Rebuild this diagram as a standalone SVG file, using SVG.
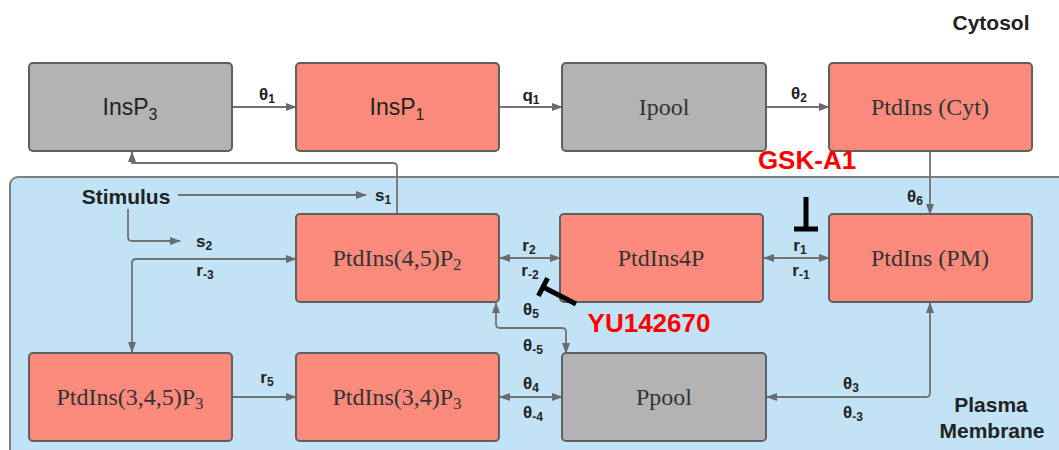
<svg xmlns="http://www.w3.org/2000/svg" width="1059" height="450" viewBox="0 0 1059 450">
<defs>
<marker id="ah" markerUnits="userSpaceOnUse" markerWidth="11" markerHeight="8" refX="10" refY="4" orient="auto-start-reverse">
<path d="M0,0 L11,4 L0,8 z" fill="#6b6b6b"/>
</marker>
<style>
.box{stroke:#5f5f5f;stroke-width:2}
.red{fill:#fa8b7c}
.gray{fill:#b3b3b3}
.serif{font-family:"Liberation Serif","DejaVu Serif",serif;font-size:24px;fill:#333;text-anchor:middle}
.sans{font-family:"Liberation Sans",Arial,sans-serif;font-size:23px;fill:#222;text-anchor:middle}
.lbl{font-family:"Liberation Sans",Arial,sans-serif;font-size:17px;font-weight:bold;fill:#222;text-anchor:middle}
.big{font-family:"Liberation Sans",Arial,sans-serif;font-size:21px;font-weight:bold;fill:#222;text-anchor:middle}
.inh{font-family:"Liberation Sans",Arial,sans-serif;font-size:26px;font-weight:bold;fill:#f00;text-anchor:middle}
.sub{font-size:12px}
.c{fill:none;stroke:#727272;stroke-width:1.8}
.t{stroke:#000;stroke-width:5;fill:none}
</style>
</defs>
<rect width="1059" height="450" fill="#fff"/>
<g id="membrane">
<rect x="10" y="177" width="1062" height="290" rx="8" fill="#c2e3f5" stroke="#7f7f7f" stroke-width="2"/>
<text class="big" x="991" y="412">Plasma</text>
<text class="big" x="992" y="438">Membrane</text>
</g>
<text id="cytosol" class="big" x="991" y="30">Cytosol</text>

<g id="connectors">
<path class="c" d="M232,107 H296" marker-end="url(#ah)"/>
<path class="c" d="M499,107 H562" marker-end="url(#ah)"/>
<path class="c" d="M766,107 H829" marker-end="url(#ah)"/>
<path class="c" d="M930,151 V214" marker-end="url(#ah)"/>
<path class="c" d="M397,214 V167 Q397,163 393,163 H132 V152" marker-end="url(#ah)"/>
<path class="c" d="M178,195 H366" marker-end="url(#ah)"/>
<path class="c" d="M128,209 V237 Q128,241 132,241 H180" marker-end="url(#ah)"/>
<path class="c" d="M132,352 V263 Q132,259 136,259 H296" marker-start="url(#ah)" marker-end="url(#ah)"/>
<path class="c" d="M500,258 H560" marker-start="url(#ah)" marker-end="url(#ah)"/>
<path class="c" d="M764,258 H829" marker-start="url(#ah)" marker-end="url(#ah)"/>
<path class="c" d="M496,303 V324 Q496,328 500,328 H562 Q566,328 566,332 V353" marker-start="url(#ah)" marker-end="url(#ah)"/>
<path class="c" d="M232,397 H296" marker-end="url(#ah)"/>
<path class="c" d="M500,397 H562" marker-start="url(#ah)" marker-end="url(#ah)"/>
<path class="c" d="M767,397 H926 Q930,397 930,393 V303" marker-start="url(#ah)" marker-end="url(#ah)"/>
</g>

<g id="labels">
<text class="lbl" x="267" y="100">θ<tspan class="sub" dy="3">1</tspan></text>
<text class="lbl" x="531" y="101">q<tspan class="sub" dy="3">1</tspan></text>
<text class="lbl" x="799" y="99">θ<tspan class="sub" dy="3">2</tspan></text>
<text class="lbl" x="915" y="202">θ<tspan class="sub" dy="3">6</tspan></text>
<text class="lbl" x="383" y="201">s<tspan class="sub" dy="3">1</tspan></text>
<text class="lbl" x="204" y="247">s<tspan class="sub" dy="3">2</tspan></text>
<text class="lbl" x="205" y="276">r<tspan class="sub" dy="3">-3</tspan></text>
<text class="lbl" x="529" y="251">r<tspan class="sub" dy="3">2</tspan></text>
<text class="lbl" x="530" y="276">r<tspan class="sub" dy="3">-2</tspan></text>
<text class="lbl" x="800" y="251">r<tspan class="sub" dy="3">1</tspan></text>
<text class="lbl" x="801" y="276">r<tspan class="sub" dy="3">-1</tspan></text>
<text class="lbl" x="531" y="315">θ<tspan class="sub" dy="3">5</tspan></text>
<text class="lbl" x="533" y="351">θ<tspan class="sub" dy="3">-5</tspan></text>
<text class="lbl" x="531" y="389">θ<tspan class="sub" dy="3">4</tspan></text>
<text class="lbl" x="533" y="418">θ<tspan class="sub" dy="3">-4</tspan></text>
<text class="lbl" x="267" y="383">r<tspan class="sub" dy="3">5</tspan></text>
<text class="lbl" x="851" y="389">θ<tspan class="sub" dy="3">3</tspan></text>
<text class="lbl" x="853" y="418">θ<tspan class="sub" dy="3">-3</tspan></text>
<text class="big" x="126" y="204">Stimulus</text>
</g>

<g id="InsP3"><rect class="box gray" x="29" y="63" width="203" height="88" rx="4"/><text class="sans" x="130" y="115">InsP<tspan style="font-size:16px" dy="5">3</tspan></text></g>
<g id="InsP1"><rect class="box red" x="296" y="63" width="203" height="88" rx="4"/><text class="sans" x="397" y="115">InsP<tspan style="font-size:16px" dy="5">1</tspan></text></g>
<g id="Ipool"><rect class="box gray" x="562" y="63" width="204" height="88" rx="4"/><text class="serif" x="664" y="115">Ipool</text></g>
<g id="PtdInsCyt"><rect class="box red" x="829" y="63" width="203" height="88" rx="4"/><text class="serif" x="930" y="115">PtdIns (Cyt)</text></g>
<g id="PtdIns45P2"><rect class="box red" x="296" y="214" width="203" height="88" rx="4"/><text class="serif" x="397" y="266">PtdIns(4,5)P<tspan style="font-size:17px" dy="4">2</tspan></text></g>
<g id="PtdIns4P"><rect class="box red" x="560" y="214" width="203" height="88" rx="4"/><text class="serif" x="661" y="266">PtdIns4P</text></g>
<g id="PtdInsPM"><rect class="box red" x="829" y="214" width="203" height="88" rx="4"/><text class="serif" x="930" y="266">PtdIns (PM)</text></g>
<g id="PtdIns345P3"><rect class="box red" x="29" y="353" width="203" height="88" rx="4"/><text class="serif" x="130" y="405">PtdIns(3,4,5)P<tspan style="font-size:17px" dy="4">3</tspan></text></g>
<g id="PtdIns34P3"><rect class="box red" x="296" y="353" width="203" height="88" rx="4"/><text class="serif" x="397" y="405">PtdIns(3,4)P<tspan style="font-size:17px" dy="4">3</tspan></text></g>
<g id="Ppool"><rect class="box gray" x="562" y="353" width="204" height="88" rx="4"/><text class="serif" x="664" y="405">Ppool</text></g>

<g id="inhibitors">
<text class="inh" x="807" y="169">GSK-A1</text>
<path class="t" d="M806,197 V229 M794,229 H818"/>
<text class="inh" x="649" y="332">YU142670</text>
<path class="t" d="M576,304 L543,287 M547.6,278.1 L538.4,295.9"/>
</g>
</svg>
